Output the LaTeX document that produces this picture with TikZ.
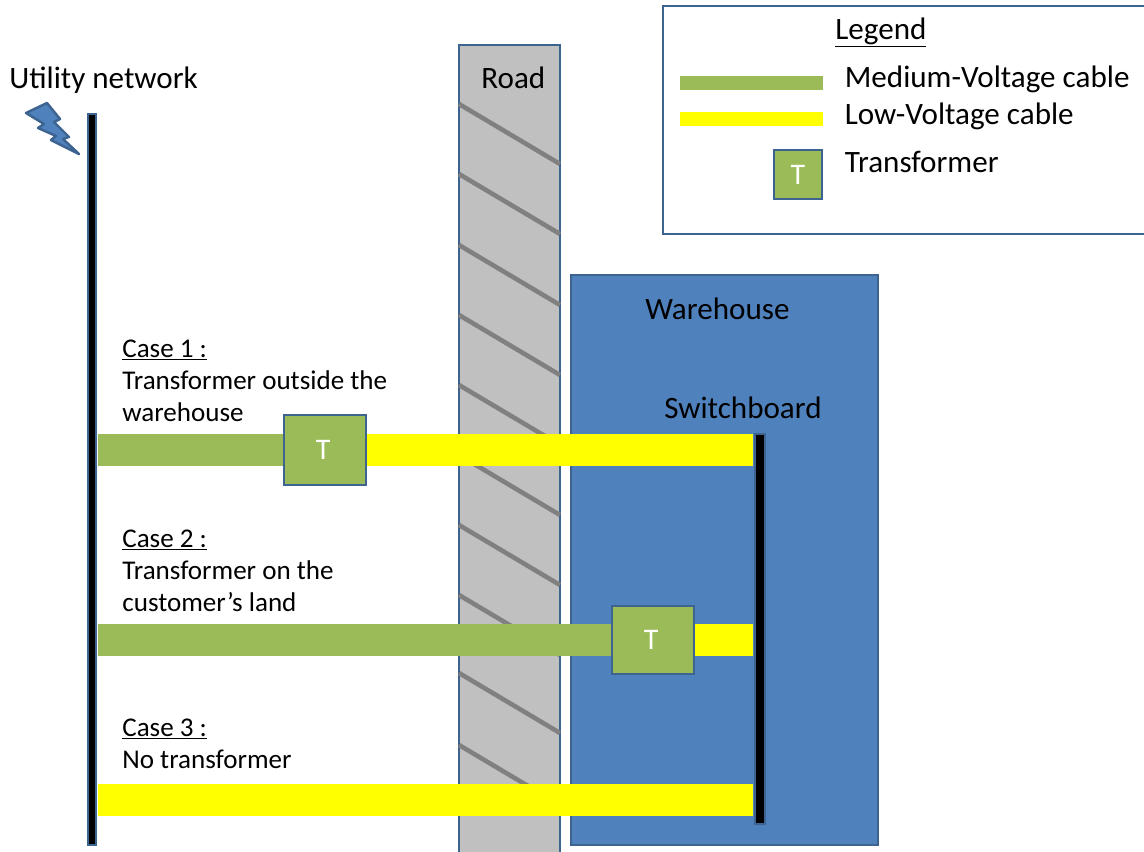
\documentclass[tikz,border=0pt]{standalone}
\usepackage{fontspec}
\setmainfont{Carlito}
\definecolor{edgeblue}{HTML}{3D6391}
\definecolor{wareblue}{HTML}{4F81BD}
\definecolor{cablegreen}{HTML}{9BBB59}
\definecolor{cableyellow}{HTML}{FFFF00}
\definecolor{roadgrey}{HTML}{C0C0C0}
\definecolor{hatchgrey}{HTML}{808080}
\tikzset{
  mvcable/.style = {draw=cablegreen, line width=0.64cm},
  lvcable/.style = {draw=cableyellow, line width=0.64cm},
  legendcable/.style = {line width=0.30cm},
  transfo/.style = {draw=edgeblue, line width=1.6pt, fill=cablegreen, text=white, inner sep=0pt, font=\fontsize{17}{17}\selectfont},
  bigtext/.style = {anchor=base west, inner sep=0pt, font=\fontsize{17.7}{17.7}\selectfont},
  smalltext/.style = {anchor=base west, inner sep=0pt, font=\fontsize{15.4}{15.4}\selectfont}
}
\begin{document}
\begin{tikzpicture}[x=0.02cm,y=-0.02cm]
\clip (0,0) rectangle (1144,852);
\fill[white] (0,0) rectangle (1144,852);
\draw[draw=edgeblue, line width=1.6pt, fill=white] (663,6) rectangle (1170,234);
\draw[draw=edgeblue, line width=1.6pt, fill=roadgrey] (459,45) rectangle (560,880);
\foreach \ystart in {104,174,245,315,385,455,525,595,673,745}
  \draw[hatchgrey, line width=2.6pt] (459,\ystart) -- (560,\ystart+60);
\draw[draw=edgeblue, line width=1.4pt, line join=round, fill=wareblue] (26,113) -- (47,103) -- (60,119) -- (54,122) -- (69,137) -- (63,139) -- (79,154) -- (51,140) -- (56,136) -- (38,128) -- (44,124) -- cycle;
\draw[draw=edgeblue, line width=1.6pt, fill=wareblue] (571,275) rectangle (878,845);
\coordinate (mvstarta) at (98,450);
\coordinate (mvstartb) at (98,640);
\coordinate (lvstartc) at (98,800);
\coordinate (lvenda) at (753,450);
\coordinate (lvendb) at (753,640);
\coordinate (lvendc) at (753,800);
\node[transfo, minimum width=1.64cm, minimum height=1.40cm] (transa) at (325,450) {T\kern2pt};
\node[transfo, minimum width=1.64cm, minimum height=1.36cm] (transb) at (653,640) {T\kern2pt};
\draw[mvcable] (mvstarta) -- (transa);
\draw[lvcable] (transa) -- (lvenda);
\draw[mvcable] (mvstartb) -- (transb);
\draw[lvcable] (transb) -- (lvendb);
\draw[lvcable] (lvstartc) -- (lvendc);
\draw[draw=edgeblue, line width=1.6pt, fill=black] (88,114) rectangle (96,845);
\draw[draw=edgeblue, line width=1.6pt, fill=black] (755,434) rectangle (765,824);
\coordinate (legmvstart) at (680,83);
\coordinate (legmvend) at (823,83);
\coordinate (leglvstart) at (680,119);
\coordinate (leglvend) at (823,119);
\draw[legendcable, cablegreen] (legmvstart) -- (legmvend);
\draw[legendcable, cableyellow] (leglvstart) -- (leglvend);
\node[transfo, minimum width=0.96cm, minimum height=0.98cm] (translegend) at (798,174.5) {T};
\node[bigtext] (utility) at (9,89) {Utility network};
\node[bigtext] (road) at (481,89) {Road};
\node[bigtext] (legend) at (835,39) {\underline{Legend}};
\node[bigtext] (mvlabel) at (844.5,88) {Medium-Voltage cable};
\node[bigtext] (lvlabel) at (844.5,124) {Low-Voltage cable};
\node[bigtext] (translabel) at (844.5,172) {Transformer};
\node[bigtext] (warehouse) at (645,319) {Warehouse};
\node[bigtext] (switchboard) at (664,418) {Switchboard};
\node[smalltext] (casea) at (122,357) {\underline{Case 1 :}};
\node[smalltext] (caseaone) at (122,389) {Transformer outside the};
\node[smalltext] (caseatwo) at (122,421) {warehouse};
\node[smalltext] (caseb) at (122,547) {\underline{Case 2 :}};
\node[smalltext] (casebone) at (122,579) {Transformer on the};
\node[smalltext] (casebtwo) at (122,611) {customer’s land};
\node[smalltext] (casec) at (122,736) {\underline{Case 3 :}};
\node[smalltext] (casecone) at (122,768) {No transformer};
\end{tikzpicture}
\end{document}
